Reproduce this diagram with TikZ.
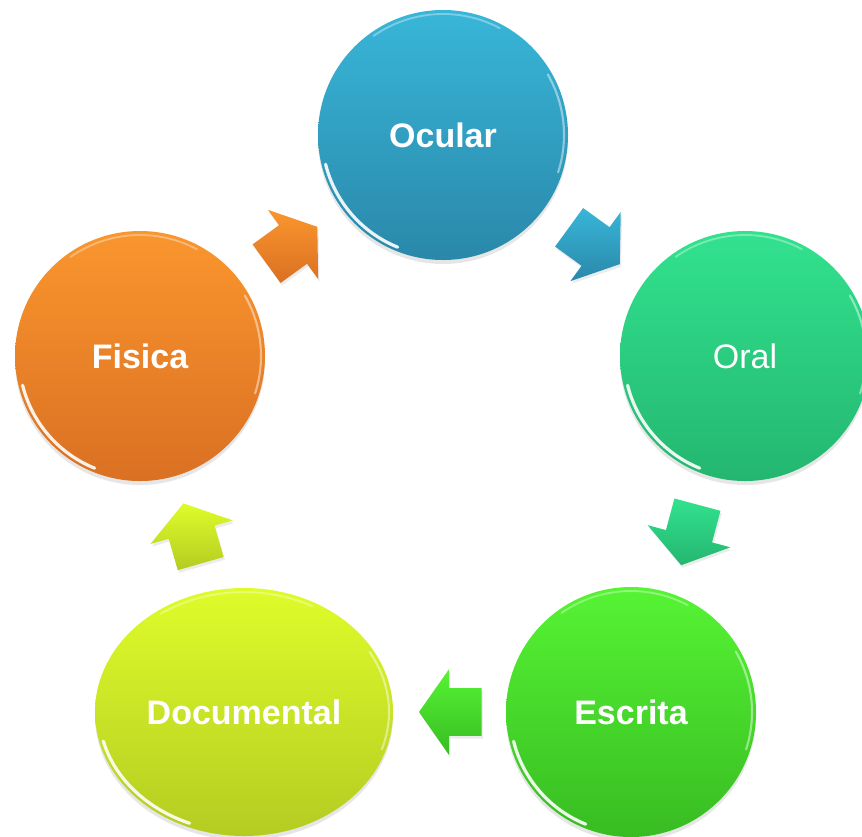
\documentclass[tikz,border=0pt]{standalone}
\usepackage{fontspec}
\setmainfont{Liberation Sans}
\usetikzlibrary{shapes.geometric,shapes.arrows,shadows,calc}
\tikzset{every picture/.style={line width=0.75pt}}

\definecolor{ocularTop}{RGB}{56,182,216}
\definecolor{ocularBot}{RGB}{42,136,170}
\definecolor{oralTop}{RGB}{50,226,142}
\definecolor{oralBot}{RGB}{36,182,112}
\definecolor{escritaTop}{RGB}{86,244,52}
\definecolor{escritaBot}{RGB}{56,188,34}
\definecolor{docTop}{RGB}{222,252,42}
\definecolor{docBot}{RGB}{180,204,34}
\definecolor{fisicaTop}{RGB}{250,150,46}
\definecolor{fisicaBot}{RGB}{218,112,34}

\tikzset{
  stage/.style={ellipse, inner sep=0pt, minimum width=187.5pt, minimum height=187.5pt,
    text=white, font=\fontsize{25.5}{30}\selectfont\bfseries,
    drop shadow={opacity=0.2, shadow xshift=0pt, shadow yshift=-3pt}},
  gloss/.style 2 args={path picture={
    \draw[white, opacity=0.9, line width=2.4pt, line cap=round]
      (path picture bounding box.center) ++(194:#1 and #2) arc[start angle=194, end angle=248, x radius=#1, y radius=#2];
    \draw[white, opacity=0.45, line width=1.6pt, line cap=round]
      (path picture bounding box.center) ++(-18:#1 and #2) arc[start angle=-18, end angle=30, x radius=#1, y radius=#2];
    \draw[white, opacity=0.35, line width=1.4pt, line cap=round]
      (path picture bounding box.center) ++(62:#1 and #2) arc[start angle=62, end angle=125, x radius=#1, y radius=#2];
  }},
  flow/.style={single arrow, single arrow tip angle=110, single arrow head extend=14.25pt,
    minimum height=47pt, inner xsep=0pt, inner ysep=17.5pt, anchor=tail,
    drop shadow={opacity=0.15, shadow xshift=1pt, shadow yshift=-2pt}},
}

\begin{document}
\begin{tikzpicture}[x=0.75pt,y=0.75pt,yscale=-1,xscale=1]
\useasboundingbox (0,0) rectangle (862,836);

%Shape: Circle
\node[stage, gloss={121}{121}, top color=ocularTop, bottom color=ocularBot] (ocular) at (443,135) {Ocular};
%Shape: Circle
\node[stage, gloss={121}{121}, top color=oralTop, bottom color=oralBot, font=\fontsize{25.5}{30}\selectfont] (oral) at (745,356) {Oral};
%Shape: Circle
\node[stage, gloss={121}{121}, top color=escritaTop, bottom color=escritaBot] (escrita) at (631,712) {Escrita};
%Shape: Ellipse
\node[stage, gloss={145}{120}, minimum width=223.5pt, minimum height=186pt, top color=docTop, bottom color=docBot] (documental) at (244,712) {Documental};
%Shape: Circle
\node[stage, gloss={121}{121}, top color=fisicaTop, bottom color=fisicaBot] (fisica) at (140,356) {Fisica};

%Shape: Arrow
\node[flow, rotate=-36, top color=ocularTop, bottom color=ocularBot] (ocularOral) at ($(ocular)!0.5!(oral)!23.5pt!(ocular)$) {};
%Shape: Arrow
\node[flow, rotate=-105, top color=oralTop, bottom color=oralBot] (oralEscrita) at ($(oral)!0.5!(escrita)!23.5pt!(oral)$) {};
%Shape: Arrow
\node[flow, rotate=180, top color=escritaTop, bottom color=escritaBot] (escritaDocumental) at ($(escrita)!0.5!(documental)!33.5pt!(escrita)$) {};
%Shape: Arrow
\node[flow, rotate=106, top color=docTop, bottom color=docBot] (documentalFisica) at ($(documental)!0.5!(fisica)!23.5pt!(documental)$) {};
%Shape: Arrow
\node[flow, rotate=36, top color=fisicaTop, bottom color=fisicaBot] (fisicaOcular) at ($(fisica)!0.5!(ocular)!23.5pt!(fisica)$) {};

\end{tikzpicture}
\end{document}
